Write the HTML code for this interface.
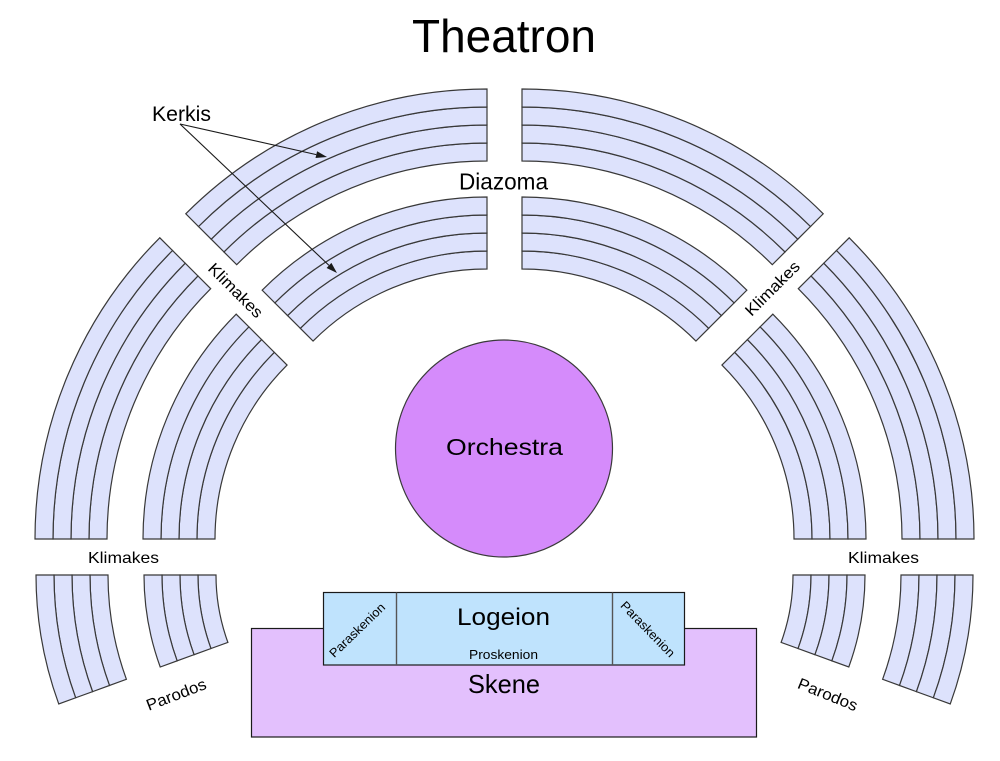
<!DOCTYPE html>
<html>
<head>
<meta charset="utf-8">
<style>
  html, body { margin:0; padding:0; background:#ffffff; }
  svg { display:block; }
  text { font-family: "Liberation Sans", "DejaVu Sans", sans-serif; fill:#000; }
</style>
</head>
<body>
<svg width="1000" height="761" viewBox="0 0 1000 761" xmlns="http://www.w3.org/2000/svg">
  <rect x="0" y="0" width="1000" height="761" fill="#ffffff"/>

  <!-- Seat blocks style -->
  <g fill="#dde2fc" stroke="#383838" stroke-width="1.2" stroke-linejoin="miter">
    <!-- Group A: upper-left outer -->
    <g transform="translate(487 515) rotate(-135)">
      <path d="M372,0 A372,372 0 0 1 263.04,263.04 L250.32,250.32 A354,354 0 0 0 354,0Z"/>
      <path d="M390,0 A390,390 0 0 1 275.77,275.77 L263.04,263.04 A372,372 0 0 0 372,0Z"/>
      <path d="M408,0 A408,408 0 0 1 288.5,288.5 L275.77,275.77 A390,390 0 0 0 390,0Z"/>
      <path d="M426,0 A426,426 0 0 1 301.23,301.23 L288.5,288.5 A408,408 0 0 0 408,0Z"/>
    </g>
    <!-- Group B: upper-left inner -->
    <g transform="translate(487 515) rotate(-135)">
      <path d="M264,0 A264,264 0 0 1 186.68,186.68 L173.95,173.95 A246,246 0 0 0 246,0Z"/>
      <path d="M282,0 A282,282 0 0 1 199.4,199.4 L186.68,186.68 A264,264 0 0 0 264,0Z"/>
      <path d="M300,0 A300,300 0 0 1 212.13,212.13 L199.4,199.4 A282,282 0 0 0 282,0Z"/>
      <path d="M318,0 A318,318 0 0 1 224.86,224.86 L212.13,212.13 A300,300 0 0 0 300,0Z"/>
    </g>
    <!-- Group C: upper-right outer -->
    <g transform="translate(522 515) rotate(-90)">
      <path d="M372,0 A372,372 0 0 1 263.04,263.04 L250.32,250.32 A354,354 0 0 0 354,0Z"/>
      <path d="M390,0 A390,390 0 0 1 275.77,275.77 L263.04,263.04 A372,372 0 0 0 372,0Z"/>
      <path d="M408,0 A408,408 0 0 1 288.5,288.5 L275.77,275.77 A390,390 0 0 0 390,0Z"/>
      <path d="M426,0 A426,426 0 0 1 301.23,301.23 L288.5,288.5 A408,408 0 0 0 408,0Z"/>
    </g>
    <!-- Group D: upper-right inner -->
    <g transform="translate(522 515) rotate(-90)">
      <path d="M264,0 A264,264 0 0 1 186.68,186.68 L173.95,173.95 A246,246 0 0 0 246,0Z"/>
      <path d="M282,0 A282,282 0 0 1 199.4,199.4 L186.68,186.68 A264,264 0 0 0 264,0Z"/>
      <path d="M300,0 A300,300 0 0 1 212.13,212.13 L199.4,199.4 A282,282 0 0 0 282,0Z"/>
      <path d="M318,0 A318,318 0 0 1 224.86,224.86 L212.13,212.13 A300,300 0 0 0 300,0Z"/>
    </g>
    <!-- Group E: left side outer -->
    <g transform="translate(461 539) rotate(180)">
      <path d="M372,0 A372,372 0 0 1 263.04,263.04 L250.32,250.32 A354,354 0 0 0 354,0Z"/>
      <path d="M390,0 A390,390 0 0 1 275.77,275.77 L263.04,263.04 A372,372 0 0 0 372,0Z"/>
      <path d="M408,0 A408,408 0 0 1 288.5,288.5 L275.77,275.77 A390,390 0 0 0 390,0Z"/>
      <path d="M426,0 A426,426 0 0 1 301.23,301.23 L288.5,288.5 A408,408 0 0 0 408,0Z"/>
    </g>
    <!-- Group F: left side inner -->
    <g transform="translate(461 539) rotate(180)">
      <path d="M264,0 A264,264 0 0 1 186.68,186.68 L173.95,173.95 A246,246 0 0 0 246,0Z"/>
      <path d="M282,0 A282,282 0 0 1 199.4,199.4 L186.68,186.68 A264,264 0 0 0 264,0Z"/>
      <path d="M300,0 A300,300 0 0 1 212.13,212.13 L199.4,199.4 A282,282 0 0 0 282,0Z"/>
      <path d="M318,0 A318,318 0 0 1 224.86,224.86 L212.13,212.13 A300,300 0 0 0 300,0Z"/>
    </g>
    <!-- Group G: right side outer -->
    <g transform="translate(548 539) rotate(-45)">
      <path d="M372,0 A372,372 0 0 1 263.04,263.04 L250.32,250.32 A354,354 0 0 0 354,0Z"/>
      <path d="M390,0 A390,390 0 0 1 275.77,275.77 L263.04,263.04 A372,372 0 0 0 372,0Z"/>
      <path d="M408,0 A408,408 0 0 1 288.5,288.5 L275.77,275.77 A390,390 0 0 0 390,0Z"/>
      <path d="M426,0 A426,426 0 0 1 301.23,301.23 L288.5,288.5 A408,408 0 0 0 408,0Z"/>
    </g>
    <!-- Group H: right side inner -->
    <g transform="translate(548 539) rotate(-45)">
      <path d="M264,0 A264,264 0 0 1 186.68,186.68 L173.95,173.95 A246,246 0 0 0 246,0Z"/>
      <path d="M282,0 A282,282 0 0 1 199.4,199.4 L186.68,186.68 A264,264 0 0 0 264,0Z"/>
      <path d="M300,0 A300,300 0 0 1 212.13,212.13 L199.4,199.4 A282,282 0 0 0 282,0Z"/>
      <path d="M318,0 A318,318 0 0 1 224.86,224.86 L212.13,212.13 A300,300 0 0 0 300,0Z"/>
    </g>

    <!-- Lower-left outer (below Klimakes) -->
    <g transform="translate(413 575) rotate(160)">
      <path d="M323,0 A323,323 0 0 1 303.52,110.47 L286.61,104.32 A305,305 0 0 0 305,0Z"/>
      <path d="M341,0 A341,341 0 0 1 320.43,116.63 L303.52,110.47 A323,323 0 0 0 323,0Z"/>
      <path d="M359,0 A359,359 0 0 1 337.35,122.79 L320.43,116.63 A341,341 0 0 0 341,0Z"/>
      <path d="M377,0 A377,377 0 0 1 354.26,128.94 L337.35,122.79 A359,359 0 0 0 359,0Z"/>
    </g>
    <!-- Lower-left inner -->
    <g transform="translate(413 575) rotate(160)">
      <path d="M215,0 A215,215 0 0 1 202.03,73.53 L185.12,67.38 A197,197 0 0 0 197,0Z"/>
      <path d="M233,0 A233,233 0 0 1 218.95,79.69 L202.03,73.53 A215,215 0 0 0 215,0Z"/>
      <path d="M251,0 A251,251 0 0 1 235.86,85.85 L218.95,79.69 A233,233 0 0 0 233,0Z"/>
      <path d="M269,0 A269,269 0 0 1 252.78,92 L235.86,85.85 A251,251 0 0 0 251,0Z"/>
    </g>
    <!-- Lower-right outer -->
    <g transform="translate(596 575)">
      <path d="M323,0 A323,323 0 0 1 303.52,110.47 L286.61,104.32 A305,305 0 0 0 305,0Z"/>
      <path d="M341,0 A341,341 0 0 1 320.43,116.63 L303.52,110.47 A323,323 0 0 0 323,0Z"/>
      <path d="M359,0 A359,359 0 0 1 337.35,122.79 L320.43,116.63 A341,341 0 0 0 341,0Z"/>
      <path d="M377,0 A377,377 0 0 1 354.26,128.94 L337.35,122.79 A359,359 0 0 0 359,0Z"/>
    </g>
    <!-- Lower-right inner -->
    <g transform="translate(596 575)">
      <path d="M215,0 A215,215 0 0 1 202.03,73.53 L185.12,67.38 A197,197 0 0 0 197,0Z"/>
      <path d="M233,0 A233,233 0 0 1 218.95,79.69 L202.03,73.53 A215,215 0 0 0 215,0Z"/>
      <path d="M251,0 A251,251 0 0 1 235.86,85.85 L218.95,79.69 A233,233 0 0 0 233,0Z"/>
      <path d="M269,0 A269,269 0 0 1 252.78,92 L235.86,85.85 A251,251 0 0 0 251,0Z"/>
    </g>
  </g>

  <!-- Orchestra -->
  <circle cx="504" cy="448.5" r="108.5" fill="#d58bfb" stroke="#3a3a3a" stroke-width="1.2"/>

  <!-- Skene -->
  <rect x="251.5" y="628.5" width="505" height="108.5" fill="#e3c0fd" stroke="#1a1a1a" stroke-width="1.2"/>
  <!-- Logeion box -->
  <rect x="323.5" y="592.5" width="361" height="72.5" fill="#bfe3fd" stroke="#1a1a1a" stroke-width="1.2"/>
  <line x1="396.5" y1="592.5" x2="396.5" y2="665" stroke="#555" stroke-width="1.4"/>
  <line x1="612.5" y1="592.5" x2="612.5" y2="665" stroke="#555" stroke-width="1.4"/>

  <!-- Kerkis arrows -->
  <g stroke="#1a1a1a" stroke-width="1.1" fill="none">
    <line x1="180" y1="124" x2="316.3" y2="154.6"/>
    <line x1="180" y1="124" x2="329" y2="265.4"/>
  </g>
  <polygon points="327,157 315.5,158 317.1,151.2" fill="#1a1a1a"/>
  <polygon points="337,273 326.6,268 331.4,262.9" fill="#1a1a1a"/>

  <!-- Texts -->
  <text x="412" y="52" font-size="46" textLength="184" lengthAdjust="spacingAndGlyphs">Theatron</text>
  <text x="152" y="121" font-size="21" textLength="59" lengthAdjust="spacingAndGlyphs">Kerkis</text>
  <text x="459" y="189.5" font-size="23" textLength="89" lengthAdjust="spacingAndGlyphs">Diazoma</text>

  <text x="88" y="563" font-size="16" textLength="71" lengthAdjust="spacingAndGlyphs">Klimakes</text>
  <text x="848" y="563" font-size="16" textLength="71" lengthAdjust="spacingAndGlyphs">Klimakes</text>

  <g transform="translate(236 290) rotate(45)">
    <text x="0" y="6" font-size="16" text-anchor="middle" textLength="70" lengthAdjust="spacingAndGlyphs">Klimakes</text>
  </g>
  <g transform="translate(772 288) rotate(-45)">
    <text x="0" y="6" font-size="16" text-anchor="middle" textLength="70" lengthAdjust="spacingAndGlyphs">Klimakes</text>
  </g>

  <g transform="translate(176 694) rotate(-21)">
    <text x="0" y="6" font-size="16" text-anchor="middle" textLength="63" lengthAdjust="spacingAndGlyphs">Parodos</text>
  </g>
  <g transform="translate(828 694) rotate(22)">
    <text x="0" y="6" font-size="16" text-anchor="middle" textLength="63" lengthAdjust="spacingAndGlyphs">Parodos</text>
  </g>

  <g transform="translate(357 630) rotate(-44)">
    <text x="0" y="4.5" font-size="12.5" text-anchor="middle" textLength="72" lengthAdjust="spacingAndGlyphs">Paraskenion</text>
  </g>
  <g transform="translate(648 629) rotate(46)">
    <text x="0" y="4.5" font-size="12.5" text-anchor="middle" textLength="72" lengthAdjust="spacingAndGlyphs">Paraskenion</text>
  </g>

  <text x="446" y="455" font-size="23" textLength="117" lengthAdjust="spacingAndGlyphs">Orchestra</text>
  <text x="457" y="625" font-size="24.5" textLength="93" lengthAdjust="spacingAndGlyphs">Logeion</text>
  <text x="469" y="659" font-size="12.5" textLength="69" lengthAdjust="spacingAndGlyphs">Proskenion</text>
  <text x="468" y="693" font-size="26" textLength="72" lengthAdjust="spacingAndGlyphs">Skene</text>
</svg>
</body>
</html>
